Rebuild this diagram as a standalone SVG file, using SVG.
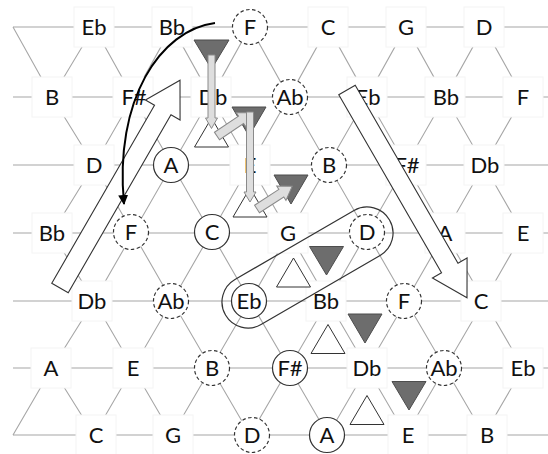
<svg xmlns="http://www.w3.org/2000/svg" xmlns:xlink="http://www.w3.org/1999/xlink" width="548" height="454" viewBox="0 0 548 454">
<defs>
<style>
.grid{fill:none;stroke:#a6a6a6;stroke-width:1.1}
.box{fill:#fff;stroke:#f4f4f4;stroke-width:1}
.sc{fill:#fff;stroke:#333;stroke-width:1.2}
.dc{fill:#fff;stroke:#333;stroke-width:1.2;stroke-dasharray:3.5 2.5}
.lbl{font-family:Lato,"Open Sans","Liberation Sans",sans-serif;font-size:22px;fill:#111;text-anchor:middle}
.dk{fill:#6d6d6d;stroke:#4d4d4d;stroke-width:1}
.wt{fill:#fff;stroke:#333;stroke-width:1}
.ga{fill:#dedede;stroke:#8a8a8a;stroke-width:1}
.big{fill:#fff;stroke:#333;stroke-width:1.1}
.cap{fill:none;stroke:#333;stroke-width:1.2}
.curve{fill:none;stroke:#000;stroke-width:2}
</style>
<marker id="ah" viewBox="0 0 10 10" refX="9" refY="5" markerWidth="10" markerHeight="10" markerUnits="userSpaceOnUse" orient="auto"><path d="M0,0 L10,5 L0,10 z" fill="#000"/></marker>
<path id="bigarrow" d="M0,-9.5 H205.5 V-20 L240,0 L205.5,20 V9.5 H0 Z"/>
<path id="smallarrow" d="M0,-4.5 H29 V-8.5 L42,0 L29,8.5 V4.5 H0 Z"/>
</defs>
<rect width="548" height="454" fill="#fff"/>
<g id="connectors" class="grid">
<path d="M13,27H548 M13,97H548 M13,165H548 M13,233H548 M13,301H548 M13,368H548 M13,435H548"/>
<path d="M13,27 L52,97 L94,27 L133,97 L172,27 L211,97 L250,27 L289,97 L328,27 L367,97 L406,27 L445,97 L484,27 L523,97"/>
<path d="M52,97 L94,165 L133,97 L172,165 L211,97 L250,165 L289,97 L328,165 L367,97 L406,165 L445,97 L484,165 L523,97"/>
<path d="M52,233 L94,165 L133,233 L172,165 L211,233 L250,165 L289,233 L328,165 L367,233 L406,165 L445,233 L484,165 L523,233"/>
<path d="M52,233 L94,301 L133,233 L172,301 L211,233 L250,301 L289,233 L328,301 L367,233 L406,301 L445,233 L484,301 L523,233"/>
<path d="M52,368 L94,301 L133,368 L172,301 L211,368 L250,301 L289,368 L328,301 L367,368 L406,301 L445,368 L484,301 L523,368"/>
<path d="M13,435 L52,368 L94,435 L133,368 L172,435 L211,368 L250,435 L289,368 L328,435 L367,368 L406,435 L445,368 L484,435 L523,368"/>
</g>
<g id="nodes">
<g id="r0-Eb"><rect class="box" x="74" y="7" width="40" height="40"/><text class="lbl" x="94" y="35">Eb</text></g>
<g id="r0-Bb"><rect class="box" x="152" y="7" width="40" height="40"/><text class="lbl" x="172" y="35">Bb</text></g>
<g id="r0-F"><circle class="dc" cx="250" cy="27" r="17.5"/><text class="lbl" x="250" y="35">F</text></g>
<g id="r0-C"><rect class="box" x="308" y="7" width="40" height="40"/><text class="lbl" x="328" y="35">C</text></g>
<g id="r0-G"><rect class="box" x="386" y="7" width="40" height="40"/><text class="lbl" x="406" y="35">G</text></g>
<g id="r0-D"><rect class="box" x="464" y="7" width="40" height="40"/><text class="lbl" x="484" y="35">D</text></g>

<g id="r1-B"><rect class="box" x="32" y="77" width="40" height="40"/><text class="lbl" x="52" y="105">B</text></g>
<g id="r1-Fs"><rect class="box" x="113" y="77" width="40" height="40"/><text class="lbl" x="134" y="105">F#</text></g>
<g id="r1-Db"><rect class="box" x="191" y="77" width="40" height="40"/><text class="lbl" x="213" y="105">Db</text></g>
<g id="r1-Ab"><circle class="dc" cx="290" cy="97" r="17.5"/><text class="lbl" x="290" y="105">Ab</text></g>
<g id="r1-Eb"><rect class="box" x="347" y="77" width="40" height="40"/><text class="lbl" x="368" y="105">Eb</text></g>
<g id="r1-Bb"><rect class="box" x="425" y="77" width="40" height="40"/><text class="lbl" x="446" y="105">Bb</text></g>
<g id="r1-F"><rect class="box" x="503" y="77" width="40" height="40"/><text class="lbl" x="523" y="105">F</text></g>

<g id="r2-D"><rect class="box" x="74" y="145" width="40" height="40"/><text class="lbl" x="94" y="173">D</text></g>
<g id="r2-A"><circle class="sc" cx="171" cy="165" r="17.5"/><text class="lbl" x="171" y="173">A</text></g>
<g id="r2-E"><rect class="box" x="230" y="145" width="40" height="40"/><text class="lbl" x="250" y="173">E</text></g>
<g id="r2-B"><circle class="dc" cx="329" cy="165" r="17.5"/><text class="lbl" x="329" y="173">B</text></g>
<g id="r2-Fs"><rect class="box" x="386" y="145" width="40" height="40"/><text class="lbl" x="407" y="173">F#</text></g>
<g id="r2-Db"><rect class="box" x="464" y="145" width="40" height="40"/><text class="lbl" x="485" y="173">Db</text></g>

<g id="r3-Bb"><rect class="box" x="32" y="213" width="40" height="40"/><text class="lbl" x="52" y="241">Bb</text></g>
<g id="r3-F"><circle class="dc" cx="131" cy="232" r="17.5"/><text class="lbl" x="131" y="240">F</text></g>
<g id="r3-C"><circle class="sc" cx="212" cy="232" r="17.5"/><text class="lbl" x="212" y="240">C</text></g>
<g id="r3-G"><rect class="box" x="268" y="213" width="40" height="40"/><text class="lbl" x="288" y="241">G</text></g>
<g id="r3-D"><circle class="dc" cx="367" cy="232" r="17.5"/><text class="lbl" x="367" y="240">D</text></g>
<g id="r3-A"><rect class="box" x="425" y="213" width="40" height="40"/><text class="lbl" x="445" y="241">A</text></g>
<g id="r3-E"><rect class="box" x="503" y="213" width="40" height="40"/><text class="lbl" x="523" y="241">E</text></g>

<g id="r4-Db"><rect class="box" x="72" y="281" width="40" height="40"/><text class="lbl" x="92" y="309">Db</text></g>
<g id="r4-Ab"><circle class="dc" cx="171" cy="301" r="17.5"/><text class="lbl" x="171" y="309">Ab</text></g>
<g id="r4-Eb"><circle class="sc" cx="249" cy="301" r="17.5"/><text class="lbl" x="249" y="309">Eb</text></g>
<g id="r4-Bb"><rect class="box" x="306" y="281" width="40" height="40"/><text class="lbl" x="326" y="309">Bb</text></g>
<g id="r4-F"><circle class="dc" cx="404" cy="301" r="17.5"/><text class="lbl" x="404" y="309">F</text></g>
<g id="r4-C"><rect class="box" x="461" y="281" width="40" height="40"/><text class="lbl" x="481" y="309">C</text></g>

<g id="r5-A"><rect class="box" x="31" y="348" width="40" height="40"/><text class="lbl" x="51" y="376">A</text></g>
<g id="r5-E"><rect class="box" x="113" y="348" width="40" height="40"/><text class="lbl" x="133" y="376">E</text></g>
<g id="r5-B"><circle class="dc" cx="212" cy="368" r="17.5"/><text class="lbl" x="212" y="376">B</text></g>
<g id="r5-Fs"><circle class="sc" cx="290" cy="368" r="17.5"/><text class="lbl" x="290" y="376">F#</text></g>
<g id="r5-Db"><rect class="box" x="347" y="348" width="40" height="40"/><text class="lbl" x="367" y="376">Db</text></g>
<g id="r5-Ab"><circle class="dc" cx="444" cy="368" r="17.5"/><text class="lbl" x="444" y="376">Ab</text></g>
<g id="r5-Eb"><rect class="box" x="503" y="348" width="40" height="40"/><text class="lbl" x="523" y="376">Eb</text></g>

<g id="r6-C"><rect class="box" x="76" y="415" width="40" height="40"/><text class="lbl" x="96" y="443">C</text></g>
<g id="r6-G"><rect class="box" x="153" y="415" width="40" height="40"/><text class="lbl" x="173" y="443">G</text></g>
<g id="r6-D"><circle class="dc" cx="252" cy="435" r="17.5"/><text class="lbl" x="252" y="443">D</text></g>
<g id="r6-A"><circle class="sc" cx="327" cy="435" r="17.5"/><text class="lbl" x="327" y="443">A</text></g>
<g id="r6-E"><rect class="box" x="388" y="415" width="40" height="40"/><text class="lbl" x="408" y="443">E</text></g>
<g id="r6-B"><rect class="box" x="467" y="415" width="40" height="40"/><text class="lbl" x="487" y="443">B</text></g>
</g>

<g id="triangles">
<polygon class="dk" points="194,40 229,40 211.5,69"/>
<polygon class="dk" points="232,107 266,107 249,136"/>
<polygon class="dk" points="274,175 308,175 291,204"/>
<polygon class="dk" points="309.5,246.5 343.5,246.5 326.5,275"/>
<polygon class="dk" points="348,314 382,314 365,343"/>
<polygon class="dk" points="392,381.5 426,381.5 409,410"/>
<polygon class="wt" points="211.5,118 194.5,147 228.5,147"/>
<polygon class="wt" points="250,188 233,217 267,217"/>
<polygon class="wt" points="293.5,258 276.5,287 310.5,287"/>
<polygon class="wt" points="328,324.5 311,353.5 345,353.5"/>
<polygon class="wt" points="367,395.5 350,424.5 384,424.5"/>
</g>

<g id="moves">
<path class="ga" d="M208,55 H215 V118 H217.5 L211.5,128.5 L205.5,118 H208 Z"/>
<use class="ga" xlink:href="#smallarrow" href="#smallarrow" transform="translate(217,136) rotate(-34)"/>
<path class="ga" d="M246.5,112 H253.5 V192 H256 L250,202 L244,192 H246.5 Z"/>
<use class="ga" xlink:href="#smallarrow" href="#smallarrow" transform="translate(257,209) rotate(-33)"/>
</g>

<g id="capsule">
<rect class="cap" x="-26" y="-26" width="189.6" height="52" rx="26" ry="26" transform="translate(248,302) rotate(-30.1)"/>
</g>

<g id="big-arrows">
<use class="big" xlink:href="#bigarrow" href="#bigarrow" transform="translate(60,288) rotate(-60)"/>
<use class="big" xlink:href="#bigarrow" href="#bigarrow" transform="translate(347,90) rotate(60)"/>
</g>

<g id="curve">
<path class="curve" d="M215,23 C160,30 114,100 124,204" marker-end="url(#ah)"/>
</g>
</svg>
